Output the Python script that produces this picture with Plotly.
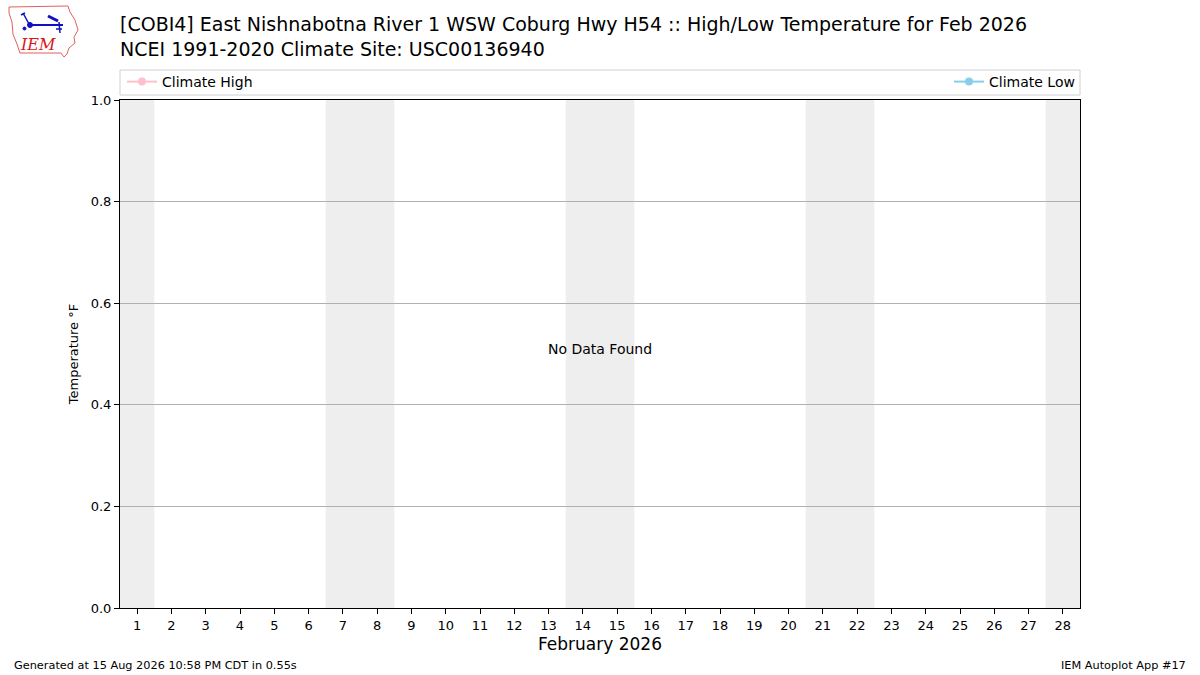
import plotly.graph_objects as go

# Feb 2026, no observations found
days = list(range(1, 29))
weekend_days = [1, 7, 8, 14, 15, 21, 22, 28]
climate_days = [1]
climate_high = [None]
climate_low = [None]
y_ticks = [0.0, 0.2, 0.4, 0.6, 0.8, 1.0]

W, H = 1200, 675
L, R, T, B = 120, 120, 100, 67


def px2paper(x, y):
    # pixel position on the page -> paper coords of the plot area
    return (x - L) / (W - L - R), (H - B - y) / (H - T - B)


def path(points):
    pts = [px2paper(x, y) for x, y in points]
    return "M " + " L ".join(f"{a:.4f},{b:.4f}" for a, b in pts) + " Z"


def pline(p0, p1, width, color="#1010c0"):
    a = px2paper(*p0)
    b = px2paper(*p1)
    fig.add_shape(type="line", xref="paper", yref="paper", x0=a[0], y0=a[1], x1=b[0], y1=b[1],
                  line=dict(color=color, width=width))


fig = go.Figure()
fig.add_trace(go.Scatter(x=climate_days, y=climate_high, mode="lines+markers",
                         name="Climate High", line=dict(color="#FFC0CB", width=2),
                         marker=dict(size=8), legend="legend"))
fig.add_trace(go.Scatter(x=climate_days, y=climate_low, mode="lines+markers",
                         name="Climate Low", line=dict(color="#87CEEB", width=2),
                         marker=dict(size=8), legend="legend2"))

for d in weekend_days:
    fig.add_vrect(x0=d - 0.5, x1=d + 0.5, fillcolor="#eeeeee", line_width=0, layer="below")

# legend frame spanning the axes width
x0, y0 = px2paper(120, 95)
x1, y1 = px2paper(1080, 70)
fig.add_shape(type="rect", xref="paper", yref="paper", x0=x0, x1=x1, y0=y0, y1=y1,
              line=dict(color="#d0d0d0", width=1), fillcolor="rgba(0,0,0,0)")

# IEM logo, roughly
fig.add_shape(type="path", xref="paper", yref="paper",
              path=path([(9, 7), (68, 6), (70, 12), (75, 20), (78, 30), (74, 37), (75, 43),
                         (69, 48), (67, 54), (64, 57), (61, 53), (20, 53), (17, 44),
                         (13, 34), (12, 22), (9, 13)]),
              line=dict(color="#e06060", width=1), fillcolor="white")
pline((30, 25), (63, 25), 2)
pline((23, 13), (29, 24), 1.5)
pline((21, 15), (25, 13), 1.5)
pline((48, 16), (58, 21), 3)
pline((59, 22), (60, 33), 1.5)
pline((56, 29), (62, 29), 1.5)
cx0, cy0 = px2paper(27.5, 22.5)
cx1, cy1 = px2paper(32.5, 27.5)
fig.add_shape(type="circle", xref="paper", yref="paper", x0=cx0, y0=cy0, x1=cx1, y1=cy1,
              line=dict(color="#1010c0", width=1), fillcolor="#1010c0")
dx0, dy0 = px2paper(23, 27)
dx1, dy1 = px2paper(26, 30)
fig.add_shape(type="circle", xref="paper", yref="paper", x0=dx0, y0=dy0, x1=dx1, y1=dy1,
              line=dict(color="#1010c0", width=1), fillcolor="#1010c0")
lx, ly = px2paper(38, 45)
fig.add_annotation(x=lx, y=ly, xref="paper", yref="paper", xanchor="center", yanchor="middle",
                   text="<i>IEM</i>", showarrow=False,
                   font=dict(family="DejaVu Serif", size=16, color="#d81818"))

fig.add_annotation(x=0.5, y=0.5, xref="paper", yref="paper", text="No Data Found", yshift=5,
                   showarrow=False, font=dict(size=14, color="black"))

fx, fy = px2paper(12, 665)
fig.add_annotation(x=fx, y=fy, xref="paper", yref="paper", xanchor="left", yanchor="middle",
                   text="Generated at 15 Aug 2026 10:58 PM CDT in 0.55s", showarrow=False,
                   font=dict(size=11.3, color="black"))
fx, fy = px2paper(1188, 665)
fig.add_annotation(x=fx, y=fy, xref="paper", yref="paper", xanchor="right", yanchor="middle",
                   text="IEM Autoplot App #17", showarrow=False, font=dict(size=11.3, color="black"))

lgx0, lgy = px2paper(122, 82)
lgx1, _ = px2paper(1080, 82)
fig.update_layout(
    width=W, height=H,
    margin=dict(l=L, r=R, t=T, b=B),
    paper_bgcolor="white", plot_bgcolor="white",
    showlegend=True,
    font=dict(family="DejaVu Sans", color="black", size=13),
    title=dict(text="[COBI4] East Nishnabotna River 1 WSW Coburg Hwy H54 :: High/Low Temperature for Feb 2026"
                    "<br>NCEI 1991-2020 Climate Site: USC00136940",
               x=120 / W, xanchor="left", y=1 - 31 / H, yanchor="top", font=dict(size=19)),
    legend=dict(x=lgx0, y=lgy, xanchor="left", yanchor="middle", bgcolor="rgba(0,0,0,0)",
                font=dict(size=14)),
    legend2=dict(x=lgx1, y=lgy, xanchor="right", yanchor="middle", bgcolor="rgba(0,0,0,0)",
                 font=dict(size=14)),
    xaxis=dict(range=[0.5, 28.5], tickvals=days, ticktext=[str(d) for d in days],
               showgrid=False, zeroline=False, showline=True, linecolor="black", mirror=True,
               ticks="outside", ticklen=5, tickcolor="black", tickfont=dict(size=13),
               title=dict(text="February 2026", font=dict(size=17), standoff=6)),
    yaxis=dict(range=[0, 1], tickvals=y_ticks, tickformat=".1f",
               showgrid=True, gridcolor="#b0b0b0", gridwidth=1, zeroline=False,
               showline=True, linecolor="black", mirror=True,
               ticks="outside", ticklen=5, tickcolor="black", tickfont=dict(size=13),
               title=dict(text="Temperature °F", font=dict(size=13), standoff=9)),
)

fig.write_html("out.html", config={"displayModeBar": False},
               post_script="document.body.style.margin='0';")
